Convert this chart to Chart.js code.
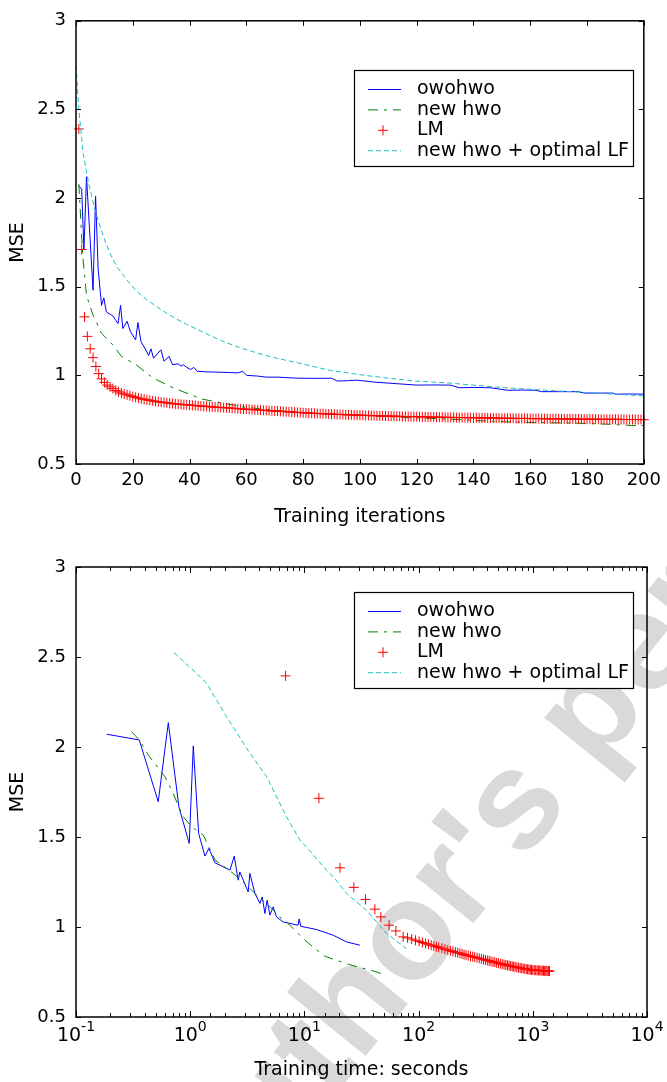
<!DOCTYPE html>
<html>
<head>
<meta charset="utf-8">
<script src="https://cdn.jsdelivr.net/npm/chart.js@4.4.1/dist/chart.umd.min.js"></script>
<style>
body { margin: 0; background: #fff; }
#wrap { position: relative; width: 667px; height: 1082px; }
.panel { position: absolute; left: 0; width: 667px; height: 541px; }
</style>
</head>
<body>
<div id="wrap">
  <div class="panel" style="top:0"><canvas id="iterChart" width="667" height="541"></canvas></div>
  <div class="panel" style="top:541px"><canvas id="timeChart" width="667" height="541"></canvas></div>
</div>
<script>
const seriesNames = ['owohwo', 'new hwo', 'LM', 'new hwo + optimal LF'];

// top panel: MSE vs training iterations
const owoIter = [1, 2, 2.8, 3.7, 6, 6.9, 7.8, 9, 9.8, 10.7, 12, 13, 14, 14.8, 15.7, 16.5, 18, 19.2, 21, 21.8,
    22.9, 24, 25.6, 26.4, 27.3, 29.9, 31, 32.8, 34, 36, 37, 37.8, 39, 40.4, 41.5, 42.7, 46, 50, 54, 57,
    58.7, 60.1, 64, 67, 71, 78, 85, 90, 92, 96, 99, 105, 113, 120, 126, 132, 135, 140, 146, 152,
    157, 162, 164, 170, 177, 179, 184, 189, 190, 195, 200];
const owoMse = [2.07, 2.05, 1.71, 2.12, 1.48, 2.01, 1.60, 1.395, 1.437, 1.357, 1.345, 1.335, 1.31, 1.292, 1.395, 1.264, 1.305, 1.246, 1.20, 1.298,
    1.19, 1.16, 1.112, 1.15, 1.097, 1.144, 1.08, 1.107, 1.06, 1.065, 1.052, 1.06, 1.045, 1.033, 1.045, 1.023, 1.02, 1.018, 1.016, 1.014,
    1.023, 1.0, 0.996, 0.99, 0.99, 0.984, 0.983, 0.984, 0.968, 0.97, 0.973, 0.962, 0.953, 0.945, 0.946, 0.945, 0.93, 0.932, 0.93, 0.916,
    0.917, 0.916, 0.908, 0.908, 0.908, 0.90, 0.90, 0.90, 0.894, 0.895, 0.894];

const hwoIter = [1, 2.3, 3.7, 6, 9, 13, 16, 21.2, 27, 34.6, 44.4, 59.6, 72, 85, 101.5, 115, 130.5, 142, 153.8, 165, 177, 188, 195.7, 200];
const hwoMse = [2.08, 1.69, 1.45, 1.34, 1.237, 1.172, 1.107, 1.06, 0.986, 0.927, 0.866, 0.82, 0.80, 0.785, 0.773, 0.763, 0.754, 0.745, 0.736, 0.733, 0.73, 0.724, 0.717, 0.717];

// LM, one value per iteration 1..200
const lmMse = [
    2.39, 1.71, 1.33, 1.22, 1.15, 1.10, 1.05, 1.01, 0.98, 0.96,
    0.945, 0.935, 0.925, 0.915, 0.907, 0.90, 0.895, 0.89, 0.885, 0.88,
    0.876, 0.872, 0.868, 0.865, 0.862, 0.859, 0.856, 0.853, 0.851, 0.849,
    0.847, 0.845, 0.843, 0.841, 0.839, 0.838, 0.836, 0.835, 0.834, 0.833,
    0.831, 0.83, 0.828, 0.827, 0.826, 0.825, 0.823, 0.822, 0.821, 0.82,
    0.819, 0.818, 0.817, 0.816, 0.815, 0.813, 0.812, 0.811, 0.81, 0.809,
    0.808, 0.807, 0.806, 0.805, 0.804, 0.803, 0.802, 0.801, 0.80, 0.799,
    0.798, 0.797, 0.796, 0.795, 0.794, 0.793, 0.792, 0.791, 0.79, 0.789,
    0.788, 0.787, 0.787, 0.786, 0.785, 0.784, 0.784, 0.783, 0.782, 0.781,
    0.781, 0.78, 0.779, 0.779, 0.778, 0.777, 0.777, 0.776, 0.776, 0.775,
    0.775, 0.774, 0.774, 0.773, 0.773, 0.772, 0.772, 0.771, 0.771, 0.77,
    0.77, 0.77, 0.769, 0.769, 0.768, 0.768, 0.768, 0.767, 0.767, 0.767,
    0.766, 0.766, 0.766, 0.765, 0.765, 0.765, 0.764, 0.764, 0.764, 0.763,
    0.763, 0.763, 0.763, 0.762, 0.762, 0.762, 0.762, 0.761, 0.761, 0.761,
    0.761, 0.76, 0.76, 0.76, 0.76, 0.759, 0.759, 0.759, 0.759, 0.758,
    0.758, 0.758, 0.758, 0.758, 0.757, 0.757, 0.757, 0.757, 0.757, 0.756,
    0.756, 0.756, 0.756, 0.756, 0.755, 0.755, 0.755, 0.755, 0.755, 0.755,
    0.754, 0.754, 0.754, 0.754, 0.754, 0.754, 0.753, 0.753, 0.753, 0.753,
    0.753, 0.753, 0.753, 0.752, 0.752, 0.752, 0.752, 0.752, 0.752, 0.752,
    0.752, 0.751, 0.751, 0.751, 0.751, 0.751, 0.751, 0.751, 0.751, 0.75
];

const lfIter = [0, 1, 2.55, 4.5, 7, 9.5, 11.9, 14.5, 17.7, 21, 24.7, 30, 35.1, 40, 46.8, 52, 58.4, 64, 70.6, 78.2,
    89.7, 103.7, 119, 130.5, 148, 165.4, 183, 200];
const lfMse = [2.75, 2.5, 2.25, 2.08, 1.914, 1.79, 1.69, 1.61, 1.543, 1.48, 1.43, 1.37, 1.32, 1.28, 1.228, 1.19, 1.153, 1.125, 1.097, 1.07,
    1.027, 0.996, 0.968, 0.958, 0.934, 0.916, 0.90, 0.884];

// bottom panel: MSE vs training time (seconds)
const owoSec = [0.186, 0.358, 0.525, 0.643, 0.796, 0.981, 1.064, 1.186, 1.346, 1.459, 1.647, 2.23, 2.43, 2.63, 2.72, 3.22, 3.33, 3.69, 4.08, 4.27,
    4.51, 4.72, 4.99, 5.33, 5.71, 6.52, 8.8, 9.0, 9.3, 12.8, 17.9, 23.4, 30.6];
const owoSecMse = [2.071, 2.039, 1.696, 2.135, 1.668, 1.464, 2.006, 1.52, 1.394, 1.437, 1.357, 1.316, 1.394, 1.26, 1.306, 1.195, 1.298, 1.186, 1.131, 1.167,
    1.075, 1.149, 1.066, 1.112, 1.056, 1.028, 1.01, 1.045, 1.004, 0.986, 0.954, 0.917, 0.899];

const hwoSec = [0.307, 0.358, 0.43, 0.601, 0.688, 0.869, 1.03, 1.30, 1.65, 2.38, 3.12, 3.81, 4.67, 6.10, 6.98, 8.55, 10.1, 12.4, 15.1, 19.1, 24.2, 30.6, 40.0, 52.4];
const hwoSecMse = [2.085, 2.039, 1.955, 1.835, 1.761, 1.612, 1.557, 1.511, 1.372, 1.298, 1.232, 1.177, 1.131, 1.056, 1.028, 0.973, 0.927, 0.880, 0.838, 0.815, 0.793, 0.775, 0.756, 0.732];

const lmSec = [
    6.84, 13.4, 20.5, 27.1, 34.3, 41.4, 46.7, 55.2, 63.2, 73.3,
    80, 87, 94, 101, 108, 115, 122, 129, 136, 143,
    150, 160, 170, 180, 190, 200, 210, 220, 230, 240,
    250, 260, 272, 285, 298, 310, 325, 340, 355, 370,
    385, 400, 415, 430, 448, 465, 482, 500, 520, 540,
    560, 580, 600, 620, 640, 660, 680, 700, 725, 750,
    775, 800, 825, 850, 875, 900, 925, 950, 975, 1000,
    1030, 1060, 1090, 1120, 1150, 1180, 1210, 1240, 1270, 1300,
    1330, 1360, 1380, 1400];
const lmSecMse = [
    2.395, 1.715, 1.329, 1.22, 1.153, 1.099, 1.056, 1.01, 0.978, 0.945,
    0.94, 0.933, 0.926, 0.92, 0.914, 0.909, 0.904, 0.899, 0.895, 0.891,
    0.887, 0.882, 0.877, 0.872, 0.868, 0.864, 0.86, 0.857, 0.854, 0.85,
    0.847, 0.844, 0.841, 0.838, 0.835, 0.832, 0.829, 0.826, 0.823, 0.82,
    0.817, 0.814, 0.812, 0.809, 0.806, 0.804, 0.801, 0.799, 0.796, 0.794,
    0.791, 0.789, 0.787, 0.785, 0.783, 0.781, 0.78, 0.778, 0.776, 0.774,
    0.772, 0.771, 0.769, 0.768, 0.766, 0.765, 0.764, 0.763, 0.762, 0.761,
    0.76, 0.76, 0.759, 0.759, 0.758, 0.758, 0.757, 0.757, 0.756, 0.756,
    0.756, 0.755, 0.755, 0.755];

const lfSec = [0.721, 1.22, 1.39, 2.08, 3.33, 4.67, 6.98, 9.12, 10.4, 15.6, 17.9, 23.4, 35.0, 52.4, 78.4];
const lfSecMse = [2.524, 2.391, 2.354, 2.169, 1.965, 1.835, 1.612, 1.483, 1.445, 1.316, 1.28, 1.186, 1.093, 0.964, 0.880];

// decade labels on the time axis: 10 raised to these
const timeTickPowers = [0.1, 1, 10, 100, 1000, 10000];
const timeTickExp = ['-1', '0', '1', '2', '3', '4'];

// line looks, same order as seriesNames
const looks = [
    { color: '#0000ff', dash: [] },
    { color: '#008000', dash: [10, 6, 3, 6] },
    { color: '#ff0000', marker: true },
    { color: '#1cc0c0', dash: [5, 3] }
];

Chart.defaults.font.family = '"DejaVu Sans", sans-serif';
Chart.defaults.font.size = 18;
Chart.defaults.color = '#000';

function pts(xs, ys) {
    return xs.map((x, i) => ({ x: x, y: ys[i] }));
}

function makeSets(groups) {
    return groups.map((d, i) => {
        const lk = looks[i];
        if (lk.marker) {
            return {
                label: seriesNames[i], data: d, showLine: false, pointStyle: 'cross',
                pointRadius: 5, borderColor: lk.color, borderWidth: 1, clip: false, order: 1
            };
        }
        return {
            label: seriesNames[i], data: d, showLine: true, borderColor: lk.color, borderWidth: 1,
            borderDash: lk.dash, pointRadius: 0, tension: 0, fill: false, order: [3, 2, 1, 0][i]
        };
    });
}

// inward ticks on all four sides plus the box, then the legend
const framePlugin = {
    id: 'frame',
    afterDatasetsDraw(chart) {
        const { ctx, chartArea: a, scales } = chart;
        ctx.save();
        ctx.strokeStyle = '#000';
        ctx.lineWidth = 1;
        ctx.beginPath();
        scales.x.ticks.forEach(t => {
            const px = Math.round(scales.x.getPixelForValue(t.value)) + 0.5;
            let len = 5;
            if (scales.x.type === 'logarithmic') {
                const e = Math.log10(t.value);
                len = Math.abs(e - Math.round(e)) < 1e-6 ? 6 : 4;
            }
            ctx.moveTo(px, a.bottom); ctx.lineTo(px, a.bottom - len);
            ctx.moveTo(px, a.top); ctx.lineTo(px, a.top + len);
        });
        scales.y.ticks.forEach(t => {
            const py = Math.round(scales.y.getPixelForValue(t.value)) + 0.5;
            ctx.moveTo(a.left, py); ctx.lineTo(a.left + 5, py);
            ctx.moveTo(a.right, py); ctx.lineTo(a.right - 5, py);
        });
        ctx.stroke();
        ctx.lineWidth = 1.5;
        ctx.strokeRect(a.left, a.top, a.right - a.left, a.bottom - a.top);

        // 10^n labels with a raised exponent
        if (scales.x.type === 'logarithmic') {
            ctx.fillStyle = '#000';
            ctx.textBaseline = 'middle';
            timeTickPowers.forEach((v, k) => {
                const px = scales.x.getPixelForValue(v);
                ctx.font = '19px "DejaVu Sans"';
                const bw = ctx.measureText('10').width;
                ctx.font = '14px "DejaVu Sans"';
                const ew = ctx.measureText(timeTickExp[k]).width;
                const x0 = px - (bw + ew) / 2;
                ctx.font = '19px "DejaVu Sans"';
                ctx.fillText('10', x0, a.bottom + 19);
                ctx.font = '14px "DejaVu Sans"';
                ctx.fillText(timeTickExp[k], x0 + bw, a.bottom + 10);
            });
        }
        ctx.restore();
    },
    afterDraw(chart, args, opts) {
        const ctx = chart.ctx;
        const left = 354, right = 633, top = opts.legendTop, h = 96;
        ctx.save();
        ctx.fillStyle = '#fff';
        ctx.fillRect(left, top, right - left, h);
        ctx.strokeStyle = '#000';
        ctx.lineWidth = 1.2;
        ctx.strokeRect(left + 0.5, top + 0.5, right - left, h);
        ctx.font = '19px "DejaVu Sans"';
        ctx.textBaseline = 'middle';
        seriesNames.forEach((name, i) => {
            const y = top + 19.5 + i * 20.4;
            const lk = looks[i];
            ctx.strokeStyle = lk.color;
            ctx.lineWidth = 1;
            ctx.beginPath();
            if (lk.marker) {
                ctx.setLineDash([]);
                ctx.moveTo(378, y); ctx.lineTo(388, y);
                ctx.moveTo(383, y - 5); ctx.lineTo(383, y + 5);
            } else {
                ctx.setLineDash(lk.dash);
                ctx.moveTo(368, y); ctx.lineTo(401, y);
            }
            ctx.stroke();
            ctx.setLineDash([]);
            ctx.fillStyle = '#000';
            ctx.fillText(name, 417, y);
        });
        ctx.restore();
    }
};

// faint rotated watermark behind the lower panel
const stampPlugin = {
    id: 'stamp',
    beforeDraw(chart) {
        const ctx = chart.ctx;
        const txt = "author's personal copy";
        const size = 140;
        const ang = -51 * Math.PI / 180;
        ctx.save();
        ctx.font = 'bold ' + size + 'px "Liberation Sans"';
        const pre = ctx.measureText('auth').width;
        const ow = ctx.measureText('o').width;
        const along = pre + ow / 2, up = size * 0.26;
        const ux = Math.cos(ang), uy = Math.sin(ang);
        const vx = Math.sin(ang), vy = -Math.cos(ang);
        const cx = 412, cy = 400;
        const sx = cx - along * ux - up * vx;
        const sy = cy - along * uy - up * vy;
        ctx.translate(sx, sy);
        ctx.rotate(ang);
        ctx.fillStyle = '#d9d9d9';
        ctx.fillText(txt, 0, 0);
        ctx.restore();
    }
};

const mseTick = v => String(+Number(v).toFixed(2));

new Chart(document.getElementById('iterChart'), {
    type: 'scatter',
    data: {
        datasets: makeSets([pts(owoIter, owoMse), pts(hwoIter, hwoMse),
            lmMse.map((v, i) => ({ x: i + 1, y: v })), pts(lfIter, lfMse)])
    },
    options: {
        responsive: false,
        animation: false,
        devicePixelRatio: 1,
        layout: { padding: { top: 15, right: 20, left: 0, bottom: 0 } },
        plugins: { legend: { display: false }, tooltip: { enabled: false }, frame: { legendTop: 70 } },
        scales: {
            x: {
                type: 'linear', min: 0, max: 200,
                grid: { display: false, drawTicks: false }, border: { display: false },
                ticks: { stepSize: 20, padding: 6, maxRotation: 0, autoSkip: false },
                title: { display: true, text: 'Training iterations', font: { size: 19 }, padding: { top: 0, bottom: 13 } },
                afterFit: s => { s.height = 77; }
            },
            y: {
                min: 0.5, max: 3,
                grid: { display: false, drawTicks: false }, border: { display: false },
                ticks: { stepSize: 0.5, padding: 10, callback: mseTick },
                title: { display: true, text: 'MSE', font: { size: 19 }, padding: { top: 7, bottom: 0 } },
                afterFit: s => { s.width = 76; }
            }
        }
    },
    plugins: [framePlugin]
});

new Chart(document.getElementById('timeChart'), {
    type: 'scatter',
    data: {
        datasets: makeSets([pts(owoSec, owoSecMse), pts(hwoSec, hwoSecMse),
            pts(lmSec, lmSecMse), pts(lfSec, lfSecMse)])
    },
    options: {
        responsive: false,
        animation: false,
        devicePixelRatio: 1,
        layout: { padding: { top: 26, right: 20, left: 0, bottom: 0 } },
        plugins: { legend: { display: false }, tooltip: { enabled: false }, frame: { legendTop: 51 } },
        scales: {
            x: {
                type: 'logarithmic', min: 0.1, max: 10000,
                grid: { display: false, drawTicks: false }, border: { display: false },
                // decade labels are drawn by the frame plugin with raised exponents
                ticks: { padding: 10, maxRotation: 0, autoSkip: false, callback: () => '' },
                title: { display: true, text: 'Training time: seconds', font: { size: 19 }, padding: { top: 0, bottom: 1 } },
                afterFit: s => { s.height = 65; }
            },
            y: {
                min: 0.5, max: 3,
                grid: { display: false, drawTicks: false }, border: { display: false },
                ticks: { stepSize: 0.5, padding: 10, callback: mseTick },
                title: { display: true, text: 'MSE', font: { size: 19 }, padding: { top: 7, bottom: 0 } },
                afterFit: s => { s.width = 76; }
            }
        }
    },
    plugins: [stampPlugin, framePlugin]
});
</script>
</body>
</html>
